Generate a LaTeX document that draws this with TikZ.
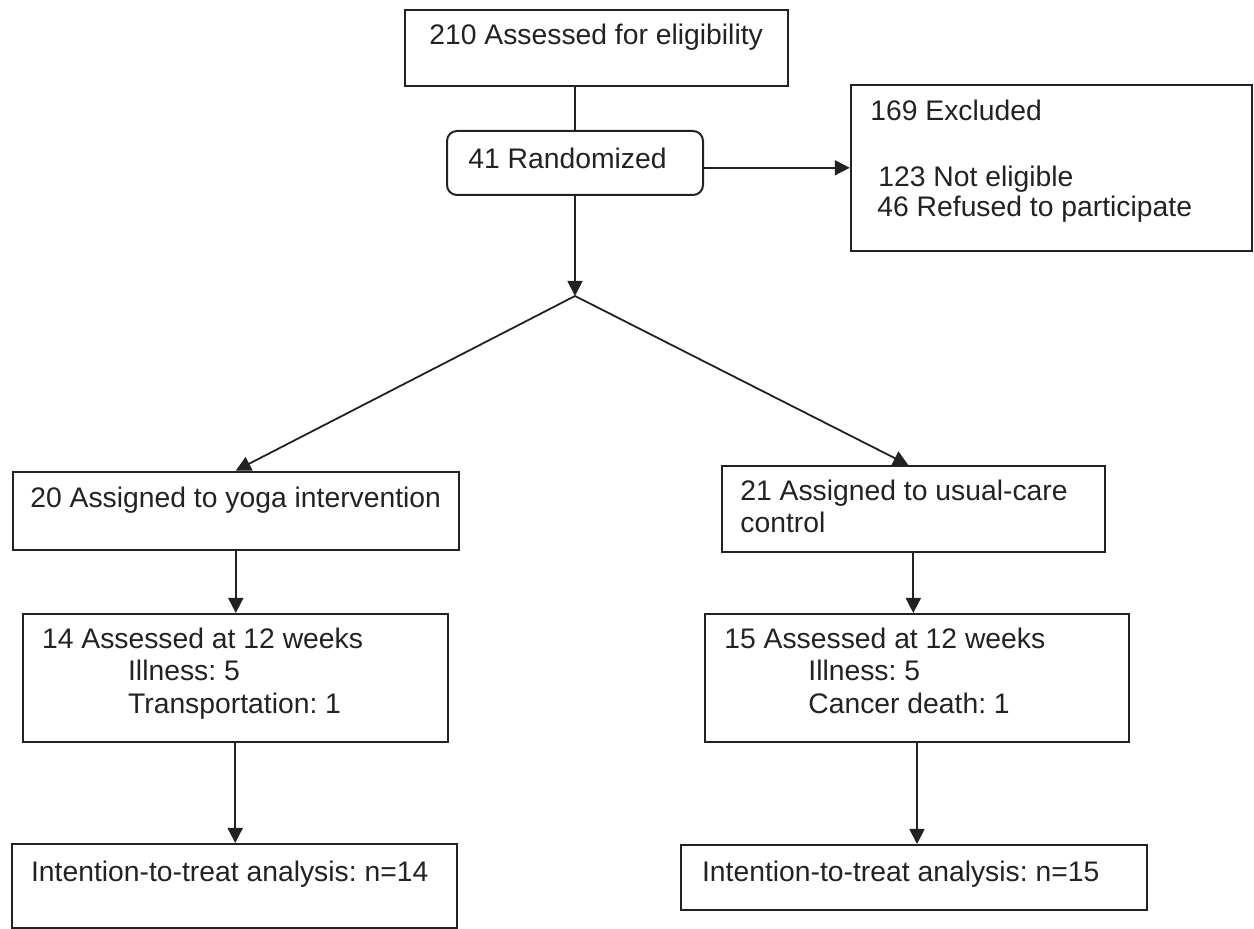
\documentclass[tikz,border=0pt]{standalone}
\usepackage{fontspec}
\setmainfont{Liberation Sans}
\usetikzlibrary{arrows.meta}
\definecolor{ink}{HTML}{222222}
\frenchspacing
\tikzset{
  box/.style={draw=ink, line width=1pt, rectangle, inner sep=0pt},
  rbox/.style={box, rounded corners=5pt},
  txt/.style={anchor=base west, inner sep=0pt, text=ink, font=\fontsize{14.15}{16.5}\selectfont},
  conn/.style={draw=ink, line width=0.9pt},
  arr/.style={conn, -{Triangle[length=7.5pt,width=7.5pt]}}
}
\begin{document}
\begin{tikzpicture}[x=0.5pt,y=-0.5pt]
\useasboundingbox (0,0) rectangle (1254,929);
% boxes
\node[box, minimum width=191.7pt, minimum height=38pt] (b1) at (596.3,48) {};
\node[rbox, minimum width=128pt, minimum height=32pt] (r) at (575,163) {};
\node[box, minimum width=200.5pt, minimum height=82.8pt] (x) at (1051.3,167.8) {};
\node[box, minimum width=223.2pt, minimum height=39.2pt] (y) at (235.8,510.8) {};
\node[box, minimum width=191.7pt, minimum height=42.8pt] (u) at (913.3,508.8) {};
\node[box, minimum width=212.5pt, minimum height=64pt] (a1) at (235.2,678) {};
\node[box, minimum width=212pt, minimum height=63.8pt] (a2) at (917,677.8) {};
\node[box, minimum width=222.7pt, minimum height=42pt] (i1) at (234.3,886) {};
\node[box, minimum width=233pt, minimum height=32.5pt] (i2) at (914,877.5) {};
\coordinate (sp) at (575,296);
% texts
\node[txt] (tb1) at (429,45) {210 Assessed for eligibility};
\node[txt] (tr) at (468,169) {41 Randomized};
\node[txt] (tx1) at (870,120.7) {169 Excluded};
\node[txt] (tx2) at (878,186.7) {123 Not eligible};
\node[txt] (tx3) at (877,216.7) {46 Refused to participate};
\node[txt] (ty) at (30,508) {20 Assigned to yoga intervention};
\node[txt] (tu1) at (740,501) {21 Assigned to usual-care};
\node[txt] (tu2) at (740,533) {control};
\node[txt] (ta1) at (41.7,649) {14 Assessed at 12 weeks};
\node[txt] (ta2) at (127.7,680.7) {Illness: 5};
\node[txt] (ta3) at (127.7,714) {Transportation: 1};
\node[txt] (tc1) at (724,649) {15 Assessed at 12 weeks};
\node[txt] (tc2) at (808,680.7) {Illness: 5};
\node[txt] (tc3) at (808,714) {Cancer death: 1};
\node[txt] (ti1) at (30.7,882) {Intention-to-treat analysis: n=14};
\node[txt] (ti2) at (701.7,882) {Intention-to-treat analysis: n=15};
% connectors
\draw[conn] (r.north |- b1.south) -- (r.north);
\draw[arr] (r.east |- x.west) -- (x.west);
\draw[arr] (r.south) -- (sp);
\draw[arr] (sp) -- (y.north);
\draw[arr] (sp) -- ([xshift=-2.5pt]u.north);
\draw[arr] (y.south) -- (y.south |- a1.north);
\draw[arr] (u.south) -- (u.south |- a2.north);
\draw[arr] (a1.south) -- (a1.south |- i1.north);
\draw[arr] (a2.south) -- (a2.south |- i2.north);
\end{tikzpicture}
\end{document}
